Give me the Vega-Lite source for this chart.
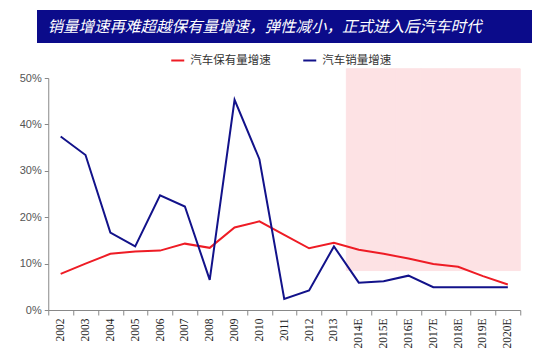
{
  "$schema": "https://vega.github.io/schema/vega-lite/v6.json",
  "padding": {"left": 10, "top": 10, "right": 0, "bottom": 0},
  "background": "white",
  "config": {"view": {"stroke": null}, "font": "Liberation Sans"},
  "spacing": 10,
  "center": true,
  "resolve": {"scale": {"color": "independent"}},
  "vconcat": [
    {
      "width": 495,
      "height": 33,
      "view": {"fill": "#0b0b8a", "stroke": null},
      "data": {"values": [{"title": "销量增速再难超越保有量增速，弹性减小，正式进入后汽车时代"}]},
      "mark": {"type": "text", "color": "white", "fontSize": 15.5, "fontStyle": "italic", "font": "Noto Sans CJK SC", "dx": -20},
      "encoding": {"text": {"field": "title", "type": "nominal"}}
    },
    {
      "width": 472,
      "height": 232,
      "data": {"values": [
        {"year": "2002", "汽车保有量增速": 0.078, "汽车销量增速": 0.374},
        {"year": "2003", "汽车保有量增速": 0.100, "汽车销量增速": 0.334},
        {"year": "2004", "汽车保有量增速": 0.121, "汽车销量增速": 0.167},
        {"year": "2005", "汽车保有量增速": 0.126, "汽车销量增速": 0.137},
        {"year": "2006", "汽车保有量增速": 0.128, "汽车销量增速": 0.247},
        {"year": "2007", "汽车保有量增速": 0.143, "汽车销量增速": 0.223},
        {"year": "2008", "汽车保有量增速": 0.134, "汽车销量增速": 0.065},
        {"year": "2009", "汽车保有量增速": 0.178, "汽车销量增速": 0.453},
        {"year": "2010", "汽车保有量增速": 0.191, "汽车销量增速": 0.325},
        {"year": "2011", "汽车保有量增速": 0.162, "汽车销量增速": 0.024},
        {"year": "2012", "汽车保有量增速": 0.133, "汽车销量增速": 0.042},
        {"year": "2013", "汽车保有量增速": 0.145, "汽车销量增速": 0.137},
        {"year": "2014E", "汽车保有量增速": 0.130, "汽车销量增速": 0.059},
        {"year": "2015E", "汽车保有量增速": 0.121, "汽车销量增速": 0.062},
        {"year": "2016E", "汽车保有量增速": 0.111, "汽车销量增速": 0.074},
        {"year": "2017E", "汽车保有量增速": 0.099, "汽车销量增速": 0.049},
        {"year": "2018E", "汽车保有量增速": 0.093, "汽车销量增速": 0.049},
        {"year": "2019E", "汽车保有量增速": 0.073, "汽车销量增速": 0.049},
        {"year": "2020E", "汽车保有量增速": 0.055, "汽车销量增速": 0.049}
      ]},
      "encoding": {
        "x": {
          "field": "year", "type": "ordinal", "sort": null,
          "scale": {
            "domain": ["2002", "2003", "2004", "2005", "2006", "2007", "2008", "2009", "2010", "2011", "2012", "2013", "2014E", "2015E", "2016E", "2017E", "2018E", "2019E", "2020E"],
            "paddingInner": 0, "paddingOuter": 0
          },
          "axis": {
            "title": null, "labelAngle": 270, "labelFont": "Liberation Serif", "labelFontSize": 11.5,
            "labelColor": "#222222", "tickBand": "extent", "tickSize": 5, "domainColor": "#888888",
            "tickColor": "#888888", "labelPadding": 3, "grid": false
          }
        }
      },
      "layer": [
        {
          "transform": [{"filter": "indexof(datum.year, 'E') >= 0"}],
          "mark": {"type": "bar", "color": "#fde2e4", "stroke": "#fde2e4", "strokeWidth": 1},
          "encoding": {
            "y": {"datum": 0.085, "type": "quantitative"},
            "y2": {"datum": 0.52}
          }
        },
        {
          "transform": [{"fold": ["汽车保有量增速", "汽车销量增速"], "as": ["series", "value"]}],
          "mark": {"type": "line", "strokeWidth": 2},
          "encoding": {
            "y": {
              "field": "value", "type": "quantitative",
              "scale": {"domain": [0, 0.5], "nice": false},
              "axis": {
                "title": null, "format": ".0%", "values": [0, 0.1, 0.2, 0.3, 0.4, 0.5], "grid": false,
                "domainColor": "#888888", "tickColor": "#888888", "tickSize": 4, "labelColor": "#555555",
                "labelFontSize": 11, "labelPadding": 3, "minExtent": 38
              }
            },
            "color": {
              "field": "series", "type": "nominal",
              "scale": {"domain": ["汽车保有量增速", "汽车销量增速"], "range": ["#ee1c25", "#12128a"]},
              "legend": {
                "orient": "none", "legendX": 122, "legendY": -25, "direction": "horizontal",
                "title": null, "symbolType": "stroke", "symbolStrokeWidth": 2,
                "symbolSize": 169, "labelFontSize": 11.5, "labelFont": "Noto Sans CJK SC", "labelColor": "#333333",
                "columnPadding": 28, "labelOffset": 5
              }
            }
          }
        }
      ]
    }
  ]
}
